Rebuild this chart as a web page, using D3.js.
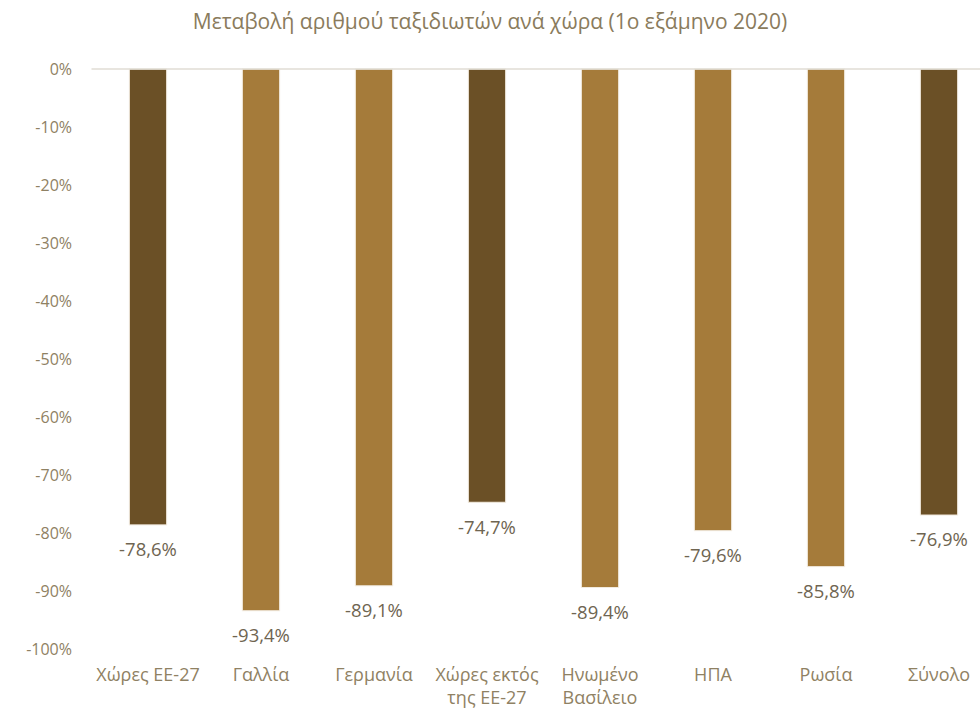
<!DOCTYPE html>
<html>
<head>
<meta charset="utf-8">
<script src="https://cdn.jsdelivr.net/npm/d3@7"></script>
<style>
  body { margin: 0; background: #fff; }
  svg text { font-family: "Open Sans", "Noto Sans", sans-serif; }
</style>
</head>
<body>
<svg id="chart" width="980" height="710"></svg>
<script>
// chart data
var categories = ["Χώρες ΕΕ-27", "Γαλλία", "Γερμανία", "Χώρες εκτός|της ΕΕ-27", "Ηνωμένο|Βασίλειο", "ΗΠΑ", "Ρωσία", "Σύνολο"];
var values = [-78.6, -93.4, -89.1, -74.7, -89.4, -79.6, -85.8, -76.9];
var darkBars = [true, false, false, true, false, false, false, true];
var yTicks = [0, -10, -20, -30, -40, -50, -60, -70, -80, -90, -100];

var svg = d3.select("#chart");
var plotLeft = 91.5, plotRight = 995.5, plotTop = 69, plotBottom = 649;

var x = d3.scaleBand().domain(categories).range([plotLeft, plotRight]).paddingInner(0.67).paddingOuter(0.335);
var y = d3.scaleLinear().domain([0, -100]).range([plotTop, plotBottom]);

function fmt(v) { return v.toFixed(1).replace(".", ",") + "%"; }

// title
svg.append("text")
  .text("Μεταβολή αριθμού ταξιδιωτών ανά χώρα (1ο εξάμηνο 2020)")
  .attr("x", 490).attr("y", 29)
  .attr("fill", "#8a7b5c")
  .style("text-anchor", "middle")
  .style("font-size", "21px");

// y tick labels
svg.selectAll(".ytick").data(yTicks)
  .enter().append("text")
    .attr("class", "ytick")
    .attr("x", 72)
    .attr("y", d => y(d))
    .attr("dy", "0.35em")
    .text(d => d + "%")
    .attr("fill", "#8f8163")
    .style("text-anchor", "end")
    .style("font-size", "16px");

// bars
svg.selectAll(".bar").data(values)
  .enter().append("rect")
    .attr("class", "bar")
    .attr("x", (d, i) => x(categories[i]))
    .attr("y", y(0))
    .attr("width", x.bandwidth())
    .attr("height", d => y(d) - y(0))
    .attr("fill", (d, i) => darkBars[i] ? "#6b5026" : "#a57b3a")
    .style("stroke", "#f2ebe0")
    .style("stroke-width", 1);

// zero line
svg.append("line")
  .attr("x1", plotLeft).attr("x2", 980)
  .attr("y1", y(0)).attr("y2", y(0))
  .style("stroke", "#e0dcd5")
  .style("stroke-width", 1.5);

// data labels
svg.selectAll(".lbl").data(values)
  .enter().append("text")
    .attr("class", "lbl")
    .attr("x", (d, i) => x(categories[i]) + x.bandwidth() / 2)
    .attr("y", d => y(d) + 25)
    .attr("dy", "0.35em")
    .text(fmt)
    .attr("fill", "#6f6551")
    .style("text-anchor", "middle")
    .style("font-size", "18.5px");

// category labels (can wrap to two lines)
categories.forEach(function(c, i) {
  var t = svg.append("text")
    .attr("x", x(c) + x.bandwidth() / 2)
    .attr("y", 681)
    .attr("fill", "#8f8163")
    .style("text-anchor", "middle")
    .style("font-size", "18px");
  c.split("|").forEach(function(line, j) {
    t.append("tspan")
      .attr("x", x(c) + x.bandwidth() / 2)
      .attr("dy", j == 0 ? 0 : 23)
      .text(line);
  });
});
</script>
</body>
</html>
